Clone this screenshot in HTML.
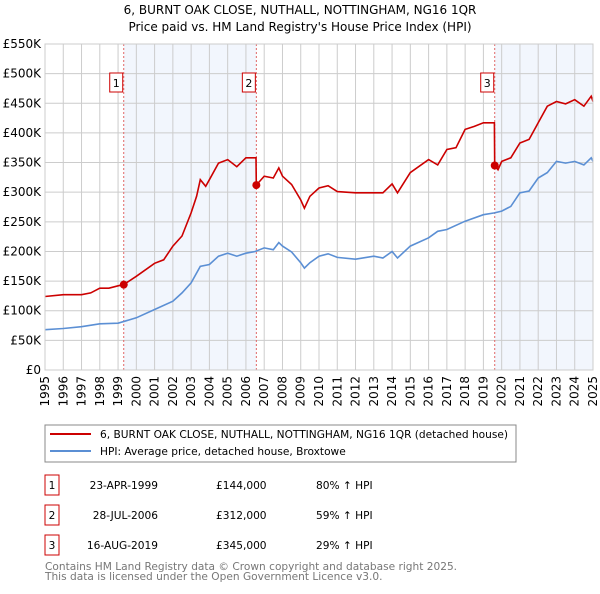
<!DOCTYPE html>
<html><head><meta charset="utf-8"><style>
body{margin:0;background:#fff;font-family:"DejaVu Sans","Liberation Sans",sans-serif;}
svg text{font-family:"DejaVu Sans","Liberation Sans",sans-serif;}
</style></head><body>
<svg width="600" height="590" xmlns="http://www.w3.org/2000/svg" id="chart">
<text x="300" y="14" text-anchor="middle" font-size="12">6, BURNT OAK CLOSE, NUTHALL, NOTTINGHAM, NG16 1QR</text>
<text x="300" y="31" text-anchor="middle" font-size="12">Price paid vs. HM Land Registry's House Price Index (HPI)</text>
<g id="plot"></g>
<g>
<rect x="45" y="425" width="471" height="37" fill="#fff" stroke="#888"/>
<line x1="50" y1="434" x2="91" y2="434" stroke="#cc0000" stroke-width="2"/>
<text x="100" y="438" font-size="10.6">6, BURNT OAK CLOSE, NUTHALL, NOTTINGHAM, NG16 1QR (detached house)</text>
<line x1="50" y1="451" x2="91" y2="451" stroke="#5b8fd4" stroke-width="2"/>
<text x="100" y="455" font-size="10.6">HPI: Average price, detached house, Broxtowe</text>
</g>
<g id="table" font-size="10.6"></g>
<text x="45" y="570" font-size="10.6" fill="#777">Contains HM Land Registry data © Crown copyright and database right 2025.</text>
<text x="45" y="580" font-size="10.6" fill="#777">This data is licensed under the Open Government Licence v3.0.</text>
</svg>
<script>
const hpiYears=[1995,1996,1997,1998,1999,2000,2001,2002,2002.5,2003,2003.5,2004,2004.5,2005,2005.5,2006,2006.5,2007,2007.5,2007.8,2008,2008.5,2009,2009.2,2009.5,2010,2010.5,2011,2012,2013,2013.5,2014,2014.3,2015,2016,2016.5,2017,2018,2019,2019.6,2020,2020.5,2021,2021.5,2022,2022.5,2023,2023.5,2024,2024.5,2024.9,2025];
const hpiValues=[68,70,73,78,79,88,102,116,130,147,175,178,192,197,192,197,200,206,203,215,209,199,181,172,181,192,196,190,187,192,189,200,189,209,223,234,237,251,262,265,268,276,299,302,324,333,352,349,352,346,358,352];
const priceYears=[1995,1996,1997,1997.5,1998,1998.5,1999,1999.31,2000,2001,2001.5,2002,2002.5,2003,2003.3,2003.5,2003.8,2004,2004.5,2005,2005.5,2006,2006.55,2006.57,2007,2007.5,2007.8,2008,2008.5,2009,2009.2,2009.5,2010,2010.5,2011,2012,2013,2013.5,2014,2014.3,2015,2016,2016.5,2017,2017.5,2018,2018.5,2019,2019.6,2019.62,2019.8,2020,2020.5,2021,2021.5,2022,2022.5,2023,2023.5,2024,2024.5,2024.9,2025];
const priceValues=[124,127,127,130,138,138,142,144,158,180,186,209,226,265,293,321,310,321,349,355,343,358,358,312,327,324,341,327,313,287,273,293,307,311,301,299,299,299,314,299,333,355,346,372,375,406,411,417,417,345,338,352,358,383,389,417,445,453,449,456,445,462,453];
const saleYears=[1999.31,2006.57,2019.62];
const saleValues=[144,312,345];
const saleLabels=["1","2","3"];
const saleDates=["23-APR-1999","28-JUL-2006","16-AUG-2019"];
const salePrices=["£144,000","£312,000","£345,000"];
const saleHpi=["80% ↑ HPI","59% ↑ HPI","29% ↑ HPI"];
const yTicks=[0,50,100,150,200,250,300,350,400,450,500,550];
const yTickLabels=["£0","£50K","£100K","£150K","£200K","£250K","£300K","£350K","£400K","£450K","£500K","£550K"];
const xTicks=[1995,1996,1997,1998,1999,2000,2001,2002,2003,2004,2005,2006,2007,2008,2009,2010,2011,2012,2013,2014,2015,2016,2017,2018,2019,2020,2021,2022,2023,2024,2025];

const NS="http://www.w3.org/2000/svg";
const X0=45,X1=593,Y0=370,Y1=44;
const xs=y=>X0+(y-1995)/30*(X1-X0);
const ys=v=>Y0-v/550*(Y0-Y1);
const plot=document.getElementById('plot');
function mk(tag,attrs,parent){const e=document.createElementNS(NS,tag);for(const k in attrs)e.setAttribute(k,attrs[k]);(parent||plot).appendChild(e);return e;}
let s1=mk('rect',{x:xs(saleYears[0]),y:Y1,width:xs(saleYears[1])-xs(saleYears[0]),height:Y0-Y1,fill:'#eef3fc',opacity:0.75});


let s2=mk('rect',{x:xs(saleYears[2]),y:Y1,width:X1-xs(saleYears[2]),height:Y0-Y1,fill:'#eef3fc',opacity:0.75});


yTicks.forEach((t,i)=>{
 let l=mk('line',{x1:X0,x2:X1,y1:ys(t),y2:ys(t),stroke:'#ccc'});
 
 
 let tx=mk('text',{x:X0-4,y:ys(t)+4,'text-anchor':'end','font-size':'12'});
 tx.textContent=yTickLabels[i];
 
 
});
xTicks.forEach(t=>{
 let l=mk('line',{x1:xs(t),x2:xs(t),y1:Y1,y2:Y0,stroke:'#ccc'});
 
 
 let tx=mk('text',{x:0,y:0,'text-anchor':'end','font-size':'12',transform:`translate(${xs(t)+4},${Y0+6}) rotate(-90)`});
 tx.textContent=t;
 
 
});
saleYears.forEach((y,i)=>{
 let l=mk('line',{x1:xs(y),x2:xs(y),y1:Y1,y2:Y0,stroke:'#e06666','stroke-dasharray':'2,2'});
 
 
 let r=mk('rect',{x:xs(y)-14,y:73,width:13,height:19,fill:'#fff',stroke:'#cc0000'});
 
 
 let tx=mk('text',{x:xs(y)-7.5,y:87,'text-anchor':'middle','font-size':'11'});
 tx.textContent=saleLabels[i];
 
 
});
const path=(xa,va)=>xa.map((x,i)=>(i?'L':'M')+xs(x).toFixed(1)+','+ys(va[i]).toFixed(1)).join('');
let hp=mk('path',{d:path(hpiYears,hpiValues),fill:'none',stroke:'#5b8fd4','stroke-width':1.6});


let pp=mk('path',{d:path(priceYears,priceValues),fill:'none',stroke:'#cc0000','stroke-width':1.6});


saleYears.forEach((y,i)=>{
 let c=mk('circle',{cx:xs(y),cy:ys(saleValues[i]),r:4,fill:'#cc0000'});
 
 
});
let ax=mk('rect',{x:X0,y:Y1,width:X1-X0,height:Y0-Y1,fill:'none',stroke:'#ccc'});


const tb=document.getElementById('table');
[485,515,545].forEach((ry,i)=>{
 let r=mk('rect',{x:45,y:ry-10,width:14,height:20,fill:'#fff',stroke:'#cc0000'},tb);
 
 
 const cells=[[52,saleLabels[i],'middle','row-number'],[158,saleDates[i],'end','sale-date'],[216,salePrices[i],'start','sale-price'],[316,saleHpi[i],'start','hpi-change']];
 cells.forEach(c=>{
  let t=mk('text',{x:c[0],y:ry+4,'text-anchor':c[2]},tb);
  t.textContent=c[1];
  
  
 });
});
</script>
</body></html>
